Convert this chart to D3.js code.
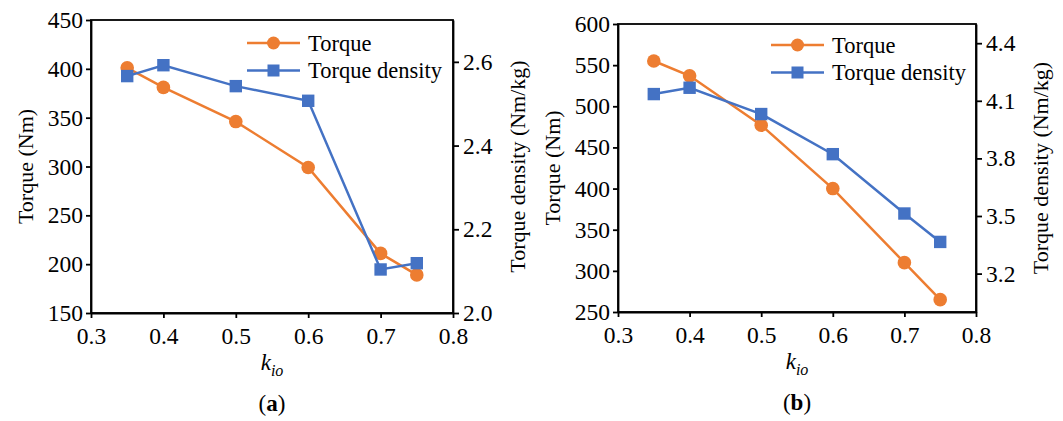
<!DOCTYPE html>
<html>
<head>
<meta charset="utf-8">
<script src="https://cdn.jsdelivr.net/npm/d3@7"></script>
<style>
  body { margin: 0; background: #fff; }
  svg text { font-family: "Liberation Serif", "Times New Roman", serif; }
</style>
</head>
<body>
<div id="chart"></div>
<script>
// values
const kio = [0.35, 0.4, 0.5, 0.6, 0.7, 0.75];
const xTicks = [0.3, 0.4, 0.5, 0.6, 0.7, 0.8];

const torqueA = [401, 381, 346, 299, 211, 189];
const densityA = [2.566, 2.592, 2.542, 2.507, 2.104, 2.119];
const torqueTicksA = [150, 200, 250, 300, 350, 400, 450];
const densityTicksA = [2.0, 2.2, 2.4, 2.6];

const torqueB = [555, 537, 477, 400, 310, 265];
const densityB = [4.135, 4.168, 4.031, 3.822, 3.513, 3.365];
const torqueTicksB = [250, 300, 350, 400, 450, 500, 550, 600];
const densityTicksB = [3.2, 3.5, 3.8, 4.1, 4.4];

const seriesNames = ["Torque", "Torque density"];
const orange = "#ED7D31", blue = "#4472C4";

const svg = d3.select("#chart").append("svg")
  .attr("width", 1063)
  .attr("height", 421);

function drawPanel(p) {
  const g = svg.append("g");
  const x = d3.scaleLinear().domain([0.3, 0.8]).range([p.left, p.right]);
  const yL = d3.scaleLinear().domain(p.torqueDomain).range([p.bottom, p.top]);
  const yR = d3.scaleLinear().domain(p.densityDomain).range([p.bottom, p.top]);

  // frame
  g.append("rect")
    .attr("x", p.left).attr("y", p.top)
    .attr("width", p.right - p.left).attr("height", p.bottom - p.top)
    .attr("fill", "none").attr("stroke", "#000").attr("stroke-width", 1.8);

  const styleAxis = sel => {
    sel.select(".domain").attr("stroke-width", 1.8);
    sel.selectAll(".tick line").attr("stroke-width", 1.8);
    sel.selectAll("text").attr("font-size", 23.5).attr("fill", "#000")
      .style("font-family", '"Liberation Serif", "Times New Roman", serif');
  };

  g.append("g").attr("transform", `translate(0,${p.bottom})`)
    .call(d3.axisBottom(x).tickValues(xTicks).tickFormat(d3.format(".1f"))
      .tickSize(5).tickSizeOuter(0).tickPadding(9))
    .call(styleAxis);

  g.append("g").attr("transform", `translate(${p.left},0)`)
    .call(d3.axisLeft(yL).tickValues(p.torqueTicks).tickSize(5).tickSizeOuter(0).tickPadding(3))
    .call(styleAxis);

  g.append("g").attr("transform", `translate(${p.right},0)`)
    .call(d3.axisRight(yR).tickValues(p.densityTicks).tickFormat(d3.format(".1f"))
      .tickSize(6).tickSizeOuter(0).tickPadding(4))
    .call(styleAxis);

  // axis titles
  const midY = (p.top + p.bottom) / 2;
  g.append("text")
    .attr("transform", `translate(${p.left - 66},${midY}) rotate(-90)`)
    .attr("text-anchor", "middle").attr("dy", "0.35em")
    .attr("font-size", 22).text("Torque (Nm)");
  g.append("text")
    .attr("transform", `translate(${p.right + 64},${midY}) rotate(-90)`)
    .attr("text-anchor", "middle").attr("dy", "0.35em")
    .attr("font-size", 22).text("Torque density (Nm/kg)");

  const xt = g.append("text")
    .attr("x", (p.left + p.right) / 2).attr("y", p.bottom + 57)
    .attr("text-anchor", "middle").attr("font-size", 23);
  xt.append("tspan").attr("font-style", "italic").text("k");
  xt.append("tspan").attr("font-style", "italic").attr("font-size", 16)
    .attr("dy", 6).text("io");

  const lab = g.append("text")
    .attr("x", (p.left + p.right) / 2).attr("y", p.bottom + 98)
    .attr("text-anchor", "middle").attr("font-size", 23);
  lab.append("tspan").text("(");
  lab.append("tspan").attr("font-weight", "bold").text(p.tag);
  lab.append("tspan").text(")");

  // series
  const lineL = d3.line().x((d, i) => x(kio[i])).y(d => yL(d));
  const lineR = d3.line().x((d, i) => x(kio[i])).y(d => yR(d));

  g.append("path").datum(p.torque)
    .attr("d", lineL).attr("fill", "none")
    .attr("stroke", orange).attr("stroke-width", 2.5);
  g.selectAll(".pt-t").data(p.torque).enter().append("circle")
    .attr("cx", (d, i) => x(kio[i])).attr("cy", d => yL(d))
    .attr("r", 6.8).attr("fill", orange);

  g.append("path").datum(p.density)
    .attr("d", lineR).attr("fill", "none")
    .attr("stroke", blue).attr("stroke-width", 2.5);
  g.selectAll(".pt-d").data(p.density).enter().append("rect")
    .attr("x", (d, i) => x(kio[i]) - 6.2).attr("y", d => yR(d) - 6.2)
    .attr("width", 12.4).attr("height", 12.4).attr("fill", blue);

  // legend
  const lg = g.append("g").attr("transform", `translate(${p.legendX},${p.legendY})`);
  seriesNames.forEach((name, i) => {
    const row = lg.append("g").attr("transform", `translate(0,${i * 27.5})`);
    const c = i === 0 ? orange : blue;
    row.append("line").attr("x1", 0).attr("x2", 53).attr("y1", 0).attr("y2", 0)
      .attr("stroke", c).attr("stroke-width", 2.5);
    if (i === 0) {
      row.append("circle").attr("cx", 26.5).attr("cy", 0).attr("r", 6.5).attr("fill", c);
    } else {
      row.append("rect").attr("x", 20.5).attr("y", -6).attr("width", 12).attr("height", 12).attr("fill", c);
    }
    row.append("text").attr("x", 61).attr("y", 0).attr("dy", "0.35em")
      .attr("font-size", 22.5).text(name);
  });
}

drawPanel({
  left: 91, right: 453, top: 20, bottom: 313,
  torqueDomain: [150, 450], densityDomain: [2.0, 2.7],
  torqueTicks: torqueTicksA, densityTicks: densityTicksA,
  torque: torqueA, density: densityA,
  legendX: 247, legendY: 43, tag: "a"
});

drawPanel({
  left: 618, right: 976, top: 24, bottom: 312,
  torqueDomain: [250, 600], densityDomain: [3.0, 4.5],
  torqueTicks: torqueTicksB, densityTicks: densityTicksB,
  torque: torqueB, density: densityB,
  legendX: 771, legendY: 45, tag: "b"
});
</script>
</body>
</html>
